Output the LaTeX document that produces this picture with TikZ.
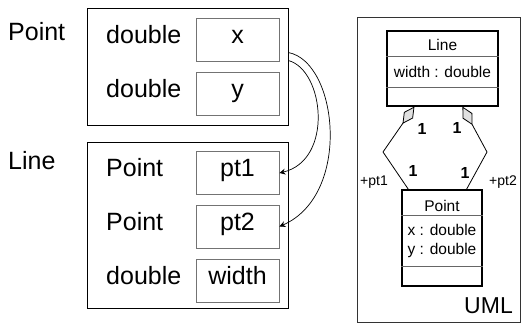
\documentclass[tikz,border=0pt]{standalone}
\usepackage{fontspec}
\setmainfont{Liberation Sans}
\usetikzlibrary{arrows.meta,calc}

\begin{document}
\begin{tikzpicture}[x=1pt,y=-1pt,
  frame/.style={draw=black,line width=0.9pt,inner sep=0pt},
  slot/.style={draw=black!55,line width=0.9pt,inner sep=0pt,
    minimum width=83pt,minimum height=43pt,
    font=\fontsize{25}{29}\selectfont,text height=0.72em,text depth=0pt},
  field/.style={inner sep=0pt,anchor=west,
    font=\fontsize{25}{29}\selectfont,text height=0.72em,text depth=0pt},
  title/.style={inner sep=0pt,anchor=base west,font=\fontsize{25}{29}\selectfont},
  umlclass/.style={draw=black,line width=1.1pt,inner sep=0pt},
  umltext/.style={inner sep=0pt,anchor=base,font=\fontsize{15.5}{18}\selectfont},
  mult/.style={inner sep=0pt,font=\bfseries\fontsize{16}{18}\selectfont},
  role/.style={inner sep=0pt,font=\fontsize{14}{16}\selectfont},
  ptr/.style={-{Stealth[length=6pt,width=6pt,inset=2pt]},line width=0.7pt},
  agg/.style={{Diamond[length=21pt,width=11pt,fill=black!12]}-,line width=0.8pt},
]
\useasboundingbox (0,0) rectangle (525,324);

% ---- struct Point: memory layout ----
\node[title] (ptitle) at (8,40) {Point};
\node[frame,minimum width=201pt,minimum height=117pt] (pframe) at (187.5,66.5) {};
\node[field] (pxtype) at (106,39.5) {double};
\node[slot] (xbox) at (237.5,39.5) {x};
\node[field] (pytype) at (106,93.5) {double};
\node[slot] (ybox) at (237.5,93.5) {y};

% ---- struct Line: memory layout ----
\node[title] (ltitle) at (8,169) {Line};
\node[frame,minimum width=201pt,minimum height=166pt] (lframe) at (187.5,225) {};
\node[field] (l1type) at (106,173) {Point};
\node[slot] (ptone) at (237.5,173) {pt1};
\node[field] (l2type) at (106,226.5) {Point};
\node[slot] (pttwo) at (237.5,226.5) {pt2};
\node[field] (l3type) at (106,281) {double};
\node[slot] (wbox) at (237.5,281) {width};

% Point values copied into pt1 and pt2
\coordinate (src2) at ($(pframe.north east)+(0,45)$);
\coordinate (src1) at ($(pframe.north east)+(0,53)$);
\draw[ptr] (src2) .. controls (338,62) and (352,195) .. (pttwo.east);
\draw[ptr] (src1) .. controls (324,70) and (334,160) .. (ptone.east);

% ---- UML class diagram ----
\node[draw=black!80,line width=0.9pt,inner sep=0pt,minimum width=163pt,minimum height=305pt] (umlframe) at (438.5,169.5) {};
\node[inner sep=0pt,anchor=base east,font=\fontsize{23}{27}\selectfont] (umllabel) at (513,313) {UML};

\node[umlclass,minimum width=111pt,minimum height=75pt] (lc) at (442.5,68.5) {};
\draw[black!60,line width=0.8pt] ($(lc.north west)+(0,26)$) -- ($(lc.north east)+(0,26)$);
\draw[black!60,line width=0.8pt] ($(lc.north west)+(0,57)$) -- ($(lc.north east)+(0,57)$);
\node[umltext] (lcname) at (442.5,50) {Line};
\node[umltext] (lcattr) at (442.5,77) {width : double};

\node[umlclass,minimum width=80pt,minimum height=96pt] (pc) at (442,238) {};
\draw[black!60,line width=0.8pt] ($(pc.north west)+(0,26)$) -- ($(pc.north east)+(0,26)$);
\draw[black!60,line width=0.8pt] ($(pc.north west)+(0,77)$) -- ($(pc.north east)+(0,77)$);
\node[umltext] (pcname) at (442,211) {Point};
\node[umltext] (pcx) at (442,235) {x : double};
\node[umltext] (pcy) at (442,254) {y : double};

% aggregations Line <>-- Point
\coordinate (bend1) at (383,152);
\coordinate (bend2) at (487,152);
\draw[agg] ($(lc.south west)+(28,0)$) -- (bend1) -- ($(pc.north west)+(7,0)$);
\draw[agg] ($(lc.south west)+(76,0)$) -- (bend2) -- ($(pc.north west)+(65,0)$);

\node[mult] (m1a) at (422,129) {1};
\node[mult] (m1b) at (413,171) {1};
\node[mult] (m2a) at (457,128) {1};
\node[mult] (m2b) at (465,173) {1};
\node[role] (r1) at (374,182) {+pt1};
\node[role] (r2) at (503,182) {+pt2};
\end{tikzpicture}
\end{document}
